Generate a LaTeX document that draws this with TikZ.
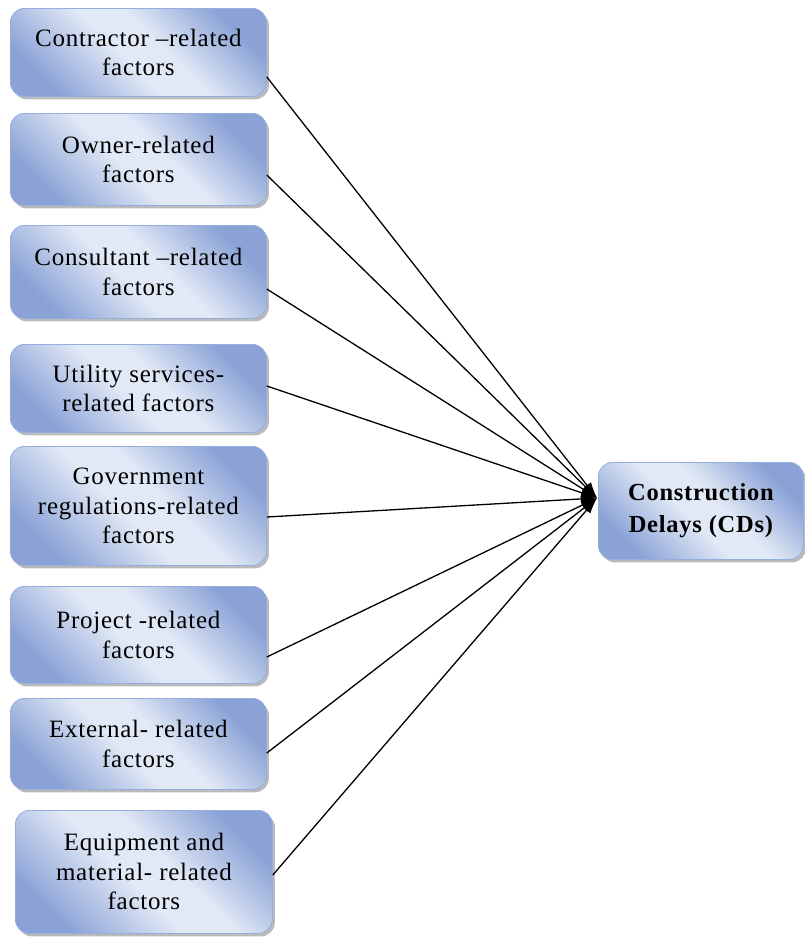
\documentclass[tikz,border=0pt]{standalone}
\usepackage{fontspec}
\setmainfont{Liberation Serif}[LetterSpace=3]
\usetikzlibrary{arrows.meta,shadows,calc}
\definecolor{boxdark}{RGB}{138,162,214}
\definecolor{boxlight}{RGB}{226,233,246}
\definecolor{boxedge}{RGB}{150,174,222}
\pgfdeclarehorizontalshading{boxsh}{100bp}{color(0bp)=(boxdark); color(25bp)=(boxdark); color(46bp)=(boxlight); color(56bp)=(boxlight); color(75bp)=(boxdark); color(100bp)=(boxdark)}
\tikzset{
  factor/.style={rectangle, rounded corners=14pt, draw=boxedge, line width=0.8pt,
    shading=boxsh, shading angle=45, anchor=north west, inner sep=0pt,
    align=center, font=\fontsize{25}{29.5}\selectfont,
    drop shadow={shadow xshift=2.5pt, shadow yshift=-3pt, fill=black!45, opacity=0.6}},
  link/.style={line width=1.3pt, black, -{Latex[length=16pt,width=10pt]}}
}
\begin{document}
\begin{tikzpicture}[x=1pt,y=-1pt]
\useasboundingbox (0,0) rectangle (804,945);
\node[factor, minimum width=256pt, minimum height=88pt] (b1) at (10,8) {Contractor –related\\factors};
\node[factor, minimum width=256pt, minimum height=92pt] (b2) at (10,113) {Owner-related\\factors};
\node[factor, minimum width=256pt, minimum height=93pt] (b3) at (10,225) {Consultant –related\\factors};
\node[factor, minimum width=256pt, minimum height=88pt] (b4) at (10,344) {Utility services-\\related factors};
\node[factor, minimum width=256pt, minimum height=119pt] (b5) at (10,446) {Government\\regulations-related\\factors};
\node[factor, minimum width=256pt, minimum height=97pt] (b6) at (10,586) {Project -related\\factors};
\node[factor, minimum width=256pt, minimum height=91pt] (b7) at (10,698) {External- related\\factors};
\node[factor, minimum width=257pt, minimum height=123pt] (b8) at (15,810) {Equipment and\\material- related\\factors};
\node[factor, minimum width=205pt, minimum height=97pt, font=\fontsize{24.5}{32}\selectfont\bfseries] (cd) at (598,462) {Construction\\Delays (CDs)};
\coordinate (hub) at (597,498);
\draw[link] (b1.east |- 0,77) -- (hub);
\draw[link] (b2.east |- 0,175) -- (hub);
\draw[link] (b3.east |- 0,289) -- (hub);
\draw[link] (b4.east |- 0,386) -- (hub);
\draw[link] (b5.east |- 0,517) -- (hub);
\draw[link] (b6.east |- 0,657) -- (hub);
\draw[link] (b7.east |- 0,753) -- (hub);
\draw[link] (b8.east |- 0,875) -- (hub);
\end{tikzpicture}
\end{document}
